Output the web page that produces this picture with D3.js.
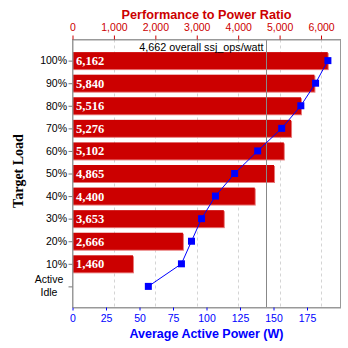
<!DOCTYPE html>
<html><head><meta charset="utf-8">
<script src="https://cdn.jsdelivr.net/npm/d3@7"></script>
<style>html,body{margin:0;padding:0;background:#fff;}svg{display:block;}</style>
</head><body>
<script>
const loads = ["100%","90%","80%","70%","60%","50%","40%","30%","20%","10%","Active Idle"];
const ratios = [6162,5840,5516,5276,5102,4865,4400,3653,2666,1460,null];
const powers = [190.6,181.4,170.4,156.1,138.2,121.0,106.7,96.3,88.8,81.3,56.6];
const overallRatio = 4662;
const ratioTicks = [0,1000,2000,3000,4000,5000,6000];
const powerTicks = [0,25,50,75,100,125,150,175];

const W = 348, H = 348;
const L = 72.5, R = 340.5, T = 39.5, B = 307.5;
const red = "#cc0000", blue = "#0000ff";

const svg = d3.select("body").append("svg").attr("width", W).attr("height", H);

const xr = d3.scaleLinear().domain([0, d3.max(ratios) * 1.05]).range([L, R]);
const xp = d3.scaleLinear().domain([0, 200]).range([L, R]);
const y = d3.scalePoint().domain(loads).range([T, B]).padding(0.935);

// gridlines
svg.append("g").selectAll("line").data(ratioTicks.slice(1)).join("line")
  .attr("x1", d => Math.round(xr(d)) + 0.5).attr("x2", d => Math.round(xr(d)) + 0.5)
  .attr("y1", T).attr("y2", B)
  .attr("stroke", "#d4d4d4").attr("stroke-dasharray", "3,3");

// bars
const bars = svg.append("g");
loads.forEach((l, i) => {
  if (ratios[i] == null) return;
  const yc = y(l);
  bars.append("rect").attr("x", L).attr("y", yc - 8.5 + 1)
    .attr("width", xr(ratios[i]) - L + 1).attr("height", 17)
    .attr("fill", "#e87878");
  bars.append("rect").attr("x", L).attr("y", yc - 8.5)
    .attr("width", xr(ratios[i]) - L).attr("height", 17)
    .attr("fill", red);
  bars.append("text").attr("x", L + 3.5).attr("y", yc + 4.5)
    .attr("fill", "#fff").attr("font-family", "Liberation Serif, serif")
    .attr("font-weight", "bold").attr("font-size", 12.5)
    .text(d3.format(",")(ratios[i]));
});

// overall line
const xo = Math.round(xr(overallRatio)) + 0.5;
svg.append("line").attr("x1", xo).attr("x2", xo).attr("y1", T).attr("y2", B)
  .attr("stroke", "#888").attr("stroke-width", 1);
svg.append("text").attr("x", xo - 3).attr("y", 50.5).attr("text-anchor", "end")
  .attr("font-family", "Liberation Sans, Arial, sans-serif").attr("font-size", 10.8)
  .attr("fill", "#000").text(d3.format(",")(overallRatio) + " overall ssj_ops/watt");

// plot border
svg.append("rect").attr("x", L).attr("y", T).attr("width", R - L).attr("height", B - T)
  .attr("fill", "none").attr("stroke", "#999");

// power line + squares
const line = d3.line().x((d, i) => xp(d)).y((d, i) => y(loads[i]));
svg.append("path").attr("d", line(powers)).attr("fill", "none")
  .attr("stroke", blue).attr("stroke-width", 1);
svg.append("g").selectAll("rect").data(powers).join("rect")
  .attr("x", d => xp(d) - 3.5).attr("y", (d, i) => y(loads[i]) - 3.5)
  .attr("width", 7).attr("height", 7).attr("fill", blue);

// top axis
const topAx = svg.append("g").attr("transform", `translate(0,${T})`)
  .call(d3.axisTop(xr).tickValues(ratioTicks).tickFormat(d3.format(",")).tickSize(4).tickSizeOuter(0));
topAx.select(".domain").attr("stroke", "#999");
topAx.selectAll(".tick line").attr("stroke", red);
topAx.selectAll(".tick text").attr("fill", red).attr("font-size", 10.5)
  .attr("font-family", "Liberation Sans, Arial, sans-serif").attr("dy", "-0.15em");

// bottom axis
const botAx = svg.append("g").attr("transform", `translate(0,${B})`)
  .call(d3.axisBottom(xp).tickValues(powerTicks).tickSize(3).tickSizeOuter(0));
botAx.select(".domain").attr("stroke", "#999");
botAx.selectAll(".tick line").attr("stroke", blue);
botAx.selectAll(".tick text").attr("fill", blue).attr("font-size", 10.5)
  .attr("font-family", "Liberation Sans, Arial, sans-serif").attr("dy", "0.85em");

// left axis
const leftAx = svg.append("g").attr("transform", `translate(${L},0)`)
  .call(d3.axisLeft(y).tickSize(4).tickSizeOuter(0).tickFormat(() => ""));
leftAx.select(".domain").attr("stroke", "#999");
leftAx.selectAll(".tick line").attr("stroke", "#777");
loads.forEach(l => {
  const yc = y(l);
  const parts = l.split(" ");
  if (parts.length === 1) {
    svg.append("text").attr("x", L - 5.5).attr("y", yc + 3.8).attr("text-anchor", "end")
      .attr("font-family", "Liberation Sans, Arial, sans-serif").attr("font-size", 10.5)
      .text(l);
  } else {
    svg.append("text").attr("x", 49).attr("y", yc - 3).attr("text-anchor", "middle")
      .attr("font-family", "Liberation Sans, Arial, sans-serif").attr("font-size", 10.5)
      .text(parts[0]);
    svg.append("text").attr("x", 49).attr("y", yc + 9.5).attr("text-anchor", "middle")
      .attr("font-family", "Liberation Sans, Arial, sans-serif").attr("font-size", 10.5)
      .text(parts[1]);
  }
});

// titles
svg.append("text").attr("x", (L + R) / 2).attr("y", 19).attr("text-anchor", "middle")
  .attr("fill", red).attr("font-family", "Liberation Sans, Arial, sans-serif")
  .attr("font-weight", "bold").attr("font-size", 12.7).text("Performance to Power Ratio");
svg.append("text").attr("x", (L + R) / 2).attr("y", 338).attr("text-anchor", "middle")
  .attr("fill", blue).attr("font-family", "Liberation Sans, Arial, sans-serif")
  .attr("font-weight", "bold").attr("font-size", 12.5).text("Average Active Power (W)");
svg.append("text").attr("transform", `translate(23,171) rotate(-90)`).attr("text-anchor", "middle")
  .attr("fill", "#000").attr("font-family", "Liberation Serif, serif")
  .attr("font-weight", "bold").attr("font-size", 14).text("Target Load");
</script>
</body></html>
